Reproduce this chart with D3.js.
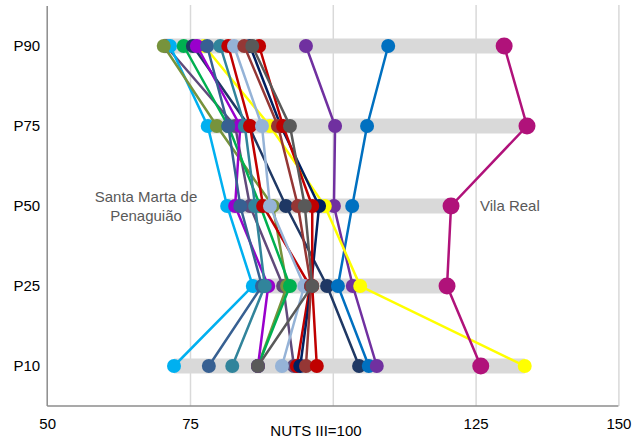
<!DOCTYPE html>
<html>
<head>
<meta charset="utf-8">
<script src="https://cdn.jsdelivr.net/npm/d3@7"></script>
<style>
  html, body { margin: 0; padding: 0; background: #ffffff; }
  svg { display: block; font-family: "Liberation Sans", Arial, sans-serif; }
</style>
</head>
<body>
<svg id="chart" width="644" height="438"></svg>
<script>
// Percentile rows (top to bottom)
const percentiles = ["P90", "P75", "P50", "P25", "P10"];
const xTicks = [50, 75, 125, 150];
const gridTicks = [75, 100, 125, 150];
const xTitle = "NUTS III=100";

// Municipalities: values per percentile [P90, P75, P50, P25, P10]
const seriesNames = [
  "muted purple", "Santa Marta de Penaguião", "olive", "green", "navy",
  "blue", "purple", "yellow", "violet", "steel", "teal", "red a",
  "light steel", "dark navy", "brown", "red b", "gray", "Vila Real"
];
const seriesColors = [
  "#604A7B", "#00B0F0", "#77933C", "#00B050", "#1F3864",
  "#0070C0", "#7030A0", "#FFFF00", "#9900CC", "#376092", "#31849B", "#C00000",
  "#95B3D7", "#002060", "#953735", "#C00000", "#595959", "#B0127A"
];
const seriesValues = [
  [70.8, 82.9, 85.5, 91.3, 93.2],
  [71.5, 78.1, 81.5, 86.0, 72.2],
  [70.4, 79.7, 89.5, 92.0, 86.9],
  [73.9, 81.7, 87.3, 92.5, 86.9],
  [75.5, 85.3, 91.8, 99.0, 104.6],
  [109.7, 106.0, 103.4, 100.9, 106.3],
  [95.3, 100.4, 100.2, 103.5, 107.7],
  [77.5, 89.0, 98.6, 104.8, 133.6],
  [76.2, 83.8, 82.9, 88.7, 86.9],
  [78.0, 81.7, 83.8, 87.6, 78.3],
  [80.3, 84.6, 86.4, 88.1, 82.4],
  [81.7, 85.5, 87.8, 96.0, 93.7],
  [82.7, 87.6, 89.0, 95.0, 91.1],
  [85.5, 90.9, 97.6, 96.2, 94.3],
  [84.5, 90.4, 93.9, 96.2, 95.3],
  [87.1, 91.3, 96.4, 96.4, 97.2],
  [85.9, 92.5, 95.1, 96.4, 86.9],
  [130.0, 134.0, 120.7, 120.0, 125.9]
];

const svg = d3.select("#chart");
const mLeft = 47.2, mRight = 618.4, mTop = 6, mBottom = 406;

const x = d3.scaleLinear().domain([50, 150]).range([mLeft, mRight]);
const y = d3.scaleBand().domain(percentiles).range([mTop, mBottom]).padding(0);
const yc = p => y(p) + y.bandwidth() / 2;

// gridlines
const grid = svg.append("g")
  .attr("transform", `translate(0,${mBottom})`)
  .call(d3.axisBottom(x).tickValues(gridTicks).tickSize(-(mBottom - mTop + 1)).tickFormat(""));
grid.select(".domain").remove();
grid.selectAll("line").attr("stroke", "#d9d9d9").attr("stroke-width", 1.5);

// axes lines
svg.append("line").attr("x1", mLeft).attr("x2", mLeft).attr("y1", mTop).attr("y2", mBottom)
  .attr("stroke", "#8c8c8c").attr("stroke-width", 1.5);
svg.append("line").attr("x1", mLeft).attr("x2", mRight).attr("y1", mBottom).attr("y2", mBottom)
  .attr("stroke", "#8c8c8c").attr("stroke-width", 1.5);

// x tick labels
const xa = svg.append("g")
  .attr("transform", `translate(0,${mBottom})`)
  .call(d3.axisBottom(x).tickValues(xTicks).tickSize(0).tickPadding(12).tickFormat(d3.format("d")));
xa.select(".domain").remove();
xa.selectAll("text").attr("font-size", 15).attr("fill", "#000").attr("font-family", "Liberation Sans, Arial, sans-serif");

svg.append("text").attr("x", 316).attr("y", 436).attr("text-anchor", "middle")
  .attr("font-size", 15).attr("fill", "#000").text(xTitle);

// y labels
const ya = svg.append("g")
  .attr("transform", `translate(${mLeft},0)`)
  .call(d3.axisLeft(y).tickSize(0).tickPadding(7));
ya.select(".domain").remove();
ya.selectAll("text").attr("font-size", 15).attr("fill", "#000").attr("font-family", "Liberation Sans, Arial, sans-serif");

// range bars (min to max of each row)
percentiles.forEach((p, i) => {
  const vals = seriesValues.map(s => s[i]);
  svg.append("rect")
    .attr("x", x(d3.min(vals)))
    .attr("width", x(d3.max(vals)) - x(d3.min(vals)))
    .attr("y", yc(p) - 7.5)
    .attr("height", 15)
    .attr("fill", "#d9d9d9");
});

// series
const line = d3.line().x(d => x(d.v)).y(d => yc(d.p));
seriesValues.forEach((vals, si) => {
  const pts = vals.map((v, i) => ({ v, p: percentiles[i] }));
  const g = svg.append("g");
  const isVR = seriesNames[si] === "Vila Real";
  g.append("path").datum(pts).attr("d", line)
    .attr("fill", "none").attr("stroke", seriesColors[si]).attr("stroke-width", 2.5);
  g.selectAll("circle").data(pts).join("circle")
    .attr("cx", d => x(d.v)).attr("cy", d => yc(d.p))
    .attr("r", isVR ? 8.5 : 7)
    .attr("fill", seriesColors[si]);
});

// annotations
const ann = svg.append("text").attr("text-anchor", "middle").attr("font-size", 15).attr("fill", "#595959");
ann.append("tspan").attr("x", 146).attr("y", 202).text("Santa Marta de");
ann.append("tspan").attr("x", 146).attr("y", 221).text("Penaguião");
svg.append("text").attr("x", 480).attr("y", 211).attr("font-size", 15).attr("fill", "#595959").text("Vila Real");
</script>
</body>
</html>
